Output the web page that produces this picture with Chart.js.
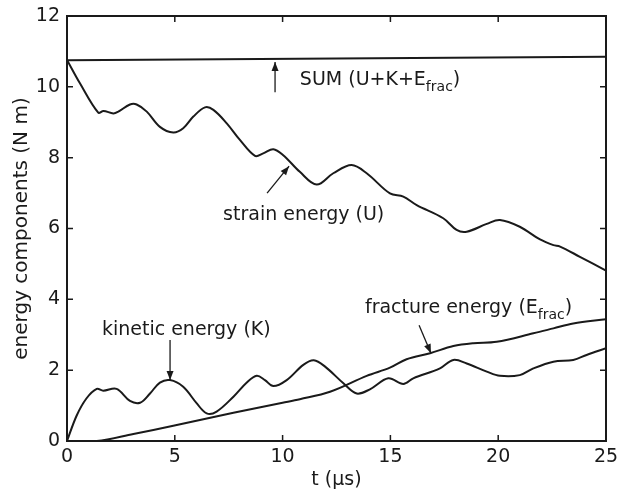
<!DOCTYPE html>
<html>
<head>
<meta charset="utf-8">
<script src="https://cdn.jsdelivr.net/npm/chart.js@4"></script>
<style>
  html, body { margin: 0; padding: 0; background: #fff; }
  #wrap { width: 618px; height: 491px; }
</style>
</head>
<body>
<div id="wrap"><canvas id="grafico"></canvas></div>
<script>
// valores
const xTicks = [0, 5, 10, 15, 20, 25];
const yTicks = [0, 2, 4, 6, 8, 10, 12];

const tSum = [0, 25];
const sumVals = [10.75, 10.85];

const tU = [0, 0.6, 1.45, 1.69, 2.15, 2.38, 2.92, 3.23, 3.7, 4.31, 4.93, 5.39, 5.86, 6.4, 6.79, 7.41, 8.02, 8.72, 9.1, 9.57, 10.03, 10.8, 11.58, 12.35, 13.2, 13.9, 14.98, 15.6, 16.22, 17.45, 18.07, 18.54, 19.47, 20.08, 21.0, 21.94, 22.56, 22.87, 23.79, 25];
const uVals = [10.76, 10.1, 9.27, 9.32, 9.25, 9.3, 9.5, 9.5, 9.3, 8.87, 8.71, 8.83, 9.16, 9.42, 9.35, 8.97, 8.5, 8.05, 8.12, 8.24, 8.07, 7.6, 7.24, 7.56, 7.79, 7.56, 6.99, 6.9, 6.66, 6.29, 5.96, 5.91, 6.13, 6.24, 6.05, 5.69, 5.53, 5.49, 5.2, 4.81];

const tK = [0, 0.45, 0.9, 1.38, 1.68, 2.3, 2.92, 3.39, 3.85, 4.31, 4.78, 5.39, 6.02, 6.48, 6.94, 7.72, 8.34, 8.8, 9.18, 9.57, 10.19, 10.96, 11.45, 11.97, 12.82, 13.44, 14.05, 14.9, 15.6, 16.06, 17.3, 17.92, 18.54, 19.47, 20.08, 21.0, 21.63, 22.56, 23.48, 24.1, 25];
const kVals = [0, 0.72, 1.2, 1.47, 1.42, 1.47, 1.13, 1.08, 1.34, 1.65, 1.72, 1.53, 1.06, 0.78, 0.83, 1.25, 1.65, 1.84, 1.72, 1.55, 1.72, 2.15, 2.28, 2.1, 1.63, 1.34, 1.46, 1.77, 1.61, 1.77, 2.05, 2.29, 2.19, 1.96, 1.84, 1.86, 2.05, 2.24, 2.29, 2.43, 2.62];

const tE = [0, 1.38, 3.08, 4.93, 7.72, 10.0, 10.8, 12.2, 13.9, 14.98, 15.75, 16.84, 17.92, 18.85, 19.93, 21.63, 22.56, 23.48, 25];
const eVals = [0, 0, 0.2, 0.43, 0.8, 1.08, 1.18, 1.39, 1.84, 2.07, 2.31, 2.48, 2.68, 2.76, 2.8, 3.04, 3.18, 3.32, 3.44];

// anotações (texto, posição em unidades do gráfico, seta)
const notas = [
  { txt: "SUM (U+K+E", sub: "frac", fim: ")", x: 10.8, y: 10.19, seta: [9.65, 9.85, 9.65, 10.7] },
  { txt: "strain energy (U)", x: 7.24, y: 6.38, seta: [9.28, 7.0, 10.3, 7.76] },
  { txt: "kinetic energy (K)", x: 1.62, y: 3.13, seta: [4.78, 2.85, 4.78, 1.72] },
  { txt: "fracture energy (E", sub: "frac", fim: ")", x: 13.82, y: 3.75, seta: [16.33, 3.27, 16.88, 2.48] }
];

const FONTE = "'DejaVu Sans', 'Liberation Sans', Arial, sans-serif";

function pontos(xs, ys) {
  return xs.map((x, i) => ({ x: x, y: ys[i] }));
}

function serie(xs, ys) {
  return {
    data: pontos(xs, ys),
    borderColor: "#1a1a1a",
    borderWidth: 2,
    pointRadius: 0,
    tension: 0.35,
    fill: false
  };
}

// moldura, marcas internas e anotações
const extras = {
  id: "extras",
  afterDatasetsDraw(chart) {
    const ctx = chart.ctx;
    const a = chart.chartArea;
    const sx = chart.scales.x, sy = chart.scales.y;
    ctx.save();
    ctx.strokeStyle = "#1a1a1a";
    ctx.lineWidth = 2;
    ctx.strokeRect(a.left, a.top, a.right - a.left, a.bottom - a.top);
    ctx.lineWidth = 1.5;
    xTicks.forEach(v => {
      const px = sx.getPixelForValue(v);
      ctx.beginPath();
      ctx.moveTo(px, a.bottom); ctx.lineTo(px, a.bottom - 6);
      ctx.moveTo(px, a.top); ctx.lineTo(px, a.top + 6);
      ctx.stroke();
    });
    yTicks.forEach(v => {
      const py = sy.getPixelForValue(v);
      ctx.beginPath();
      ctx.moveTo(a.left, py); ctx.lineTo(a.left + 6, py);
      ctx.moveTo(a.right, py); ctx.lineTo(a.right - 6, py);
      ctx.stroke();
    });

    ctx.fillStyle = "#1a1a1a";
    ctx.textBaseline = "middle";
    notas.forEach(n => {
      let px = sx.getPixelForValue(n.x);
      const py = sy.getPixelForValue(n.y);
      ctx.font = "19px " + FONTE;
      ctx.fillText(n.txt, px, py);
      px += ctx.measureText(n.txt).width;
      if (n.sub) {
        ctx.font = "14px " + FONTE;
        ctx.fillText(n.sub, px, py + 7);
        px += ctx.measureText(n.sub).width;
        ctx.font = "19px " + FONTE;
        ctx.fillText(n.fim, px, py);
      }
      // seta
      const x1 = sx.getPixelForValue(n.seta[0]), y1 = sy.getPixelForValue(n.seta[1]);
      const x2 = sx.getPixelForValue(n.seta[2]), y2 = sy.getPixelForValue(n.seta[3]);
      ctx.lineWidth = 1.3;
      ctx.beginPath();
      ctx.moveTo(x1, y1); ctx.lineTo(x2, y2);
      ctx.stroke();
      const ang = Math.atan2(y2 - y1, x2 - x1);
      const L = 9, W = 3.5;
      ctx.beginPath();
      ctx.moveTo(x2, y2);
      ctx.lineTo(x2 - L * Math.cos(ang) + W * Math.sin(ang), y2 - L * Math.sin(ang) - W * Math.cos(ang));
      ctx.lineTo(x2 - L * Math.cos(ang) - W * Math.sin(ang), y2 - L * Math.sin(ang) + W * Math.cos(ang));
      ctx.closePath();
      ctx.fill();
    });
    ctx.restore();
  }
};

new Chart(document.getElementById("grafico"), {
  type: "line",
  data: {
    datasets: [
      serie(tSum, sumVals),
      serie(tU, uVals),
      serie(tK, kVals),
      serie(tE, eVals)
    ]
  },
  options: {
    responsive: true,
    maintainAspectRatio: false,
    animation: false,
    layout: { padding: { top: 16, right: 12, left: 0, bottom: 0 } },
    plugins: { legend: { display: false }, tooltip: { enabled: false } },
    scales: {
      x: {
        type: "linear",
        min: 0, max: 25,
        afterFit(s) { s.height = 50; s.paddingLeft = 0; s.paddingRight = 0; },
        afterBuildTicks(s) { s.ticks = xTicks.map(v => ({ value: v })); },
        grid: { display: false, drawTicks: false },
        border: { display: false },
        ticks: { color: "#1a1a1a", padding: 5, font: { family: FONTE, size: 19 } },
        title: { display: true, text: "t (μs)", color: "#1a1a1a", padding: { top: 0, bottom: 0 }, font: { family: FONTE, size: 19 } }
      },
      y: {
        min: 0, max: 12,
        afterFit(s) { s.width = 67; s.paddingTop = 0; s.paddingBottom = 0; },
        afterBuildTicks(s) { s.ticks = yTicks.map(v => ({ value: v })); },
        grid: { display: false, drawTicks: false },
        border: { display: false },
        ticks: { color: "#1a1a1a", padding: 7, font: { family: FONTE, size: 19 } },
        title: { display: true, text: "energy components (N m)", color: "#1a1a1a", padding: { top: 10, bottom: 0 }, font: { family: FONTE, size: 20 } }
      }
    }
  },
  plugins: [extras]
});
</script>
</body>
</html>
